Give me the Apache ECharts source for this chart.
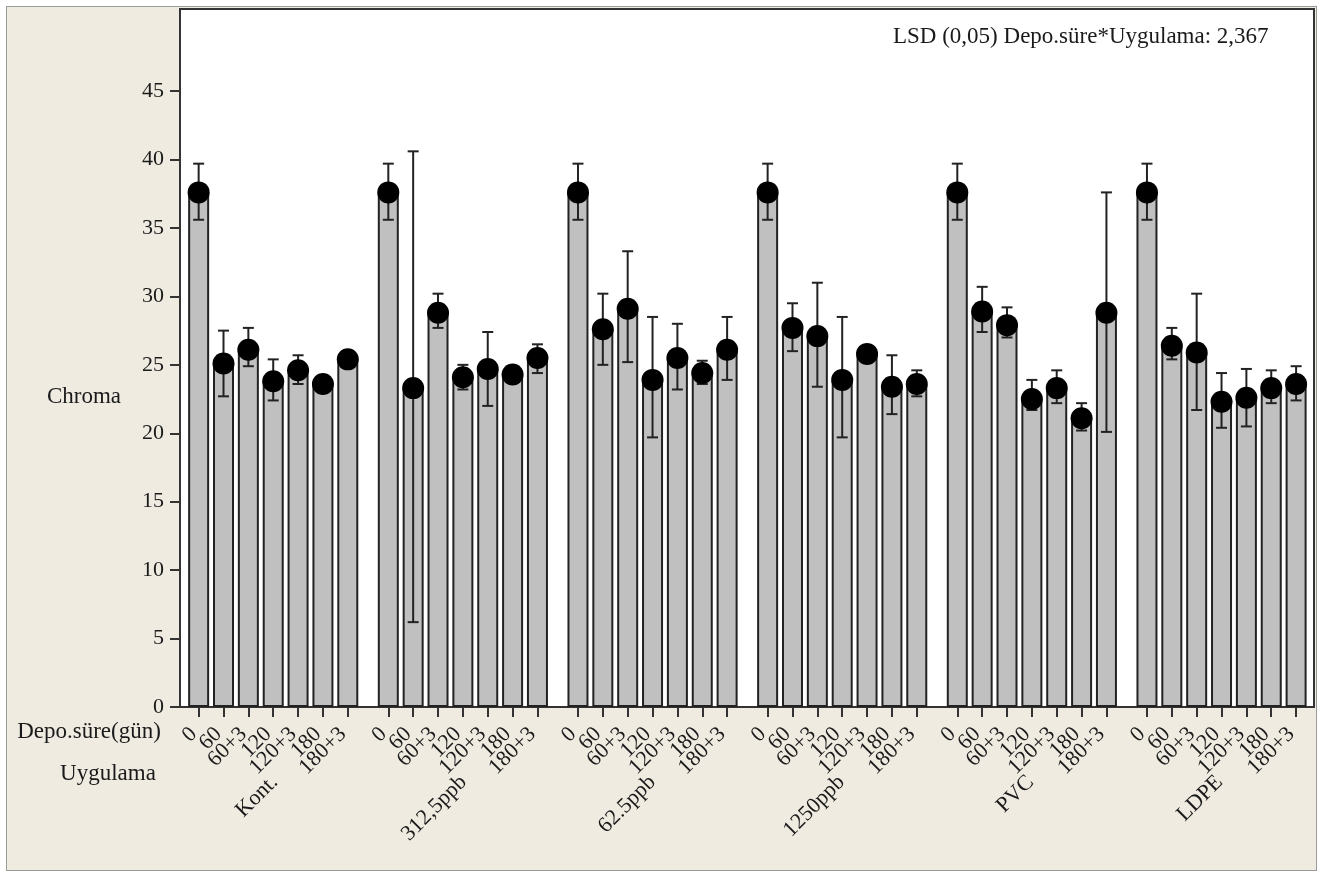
<!DOCTYPE html>
<html><head><meta charset="utf-8">
<script src="https://cdn.jsdelivr.net/npm/echarts@6/dist/echarts.min.js"></script>
<style>
html,body{margin:0;padding:0;background:#fff;}
#frame{position:absolute;left:6px;top:6px;width:1309px;height:863px;border:1px solid #9a9a9a;background:#efebe1;}
#chart{position:absolute;left:0;top:0;width:1320px;height:873px;}
</style></head><body>
<div id="frame"></div><div id="chart"></div>
<script>
// ---- data ----
const storageTimes = ['0', '60', '60+3', '120', '120+3', '180', '180+3'];
const applications = ['Kont.', '312,5ppb', '62.5ppb', '1250ppb', 'PVC', 'LDPE'];
const yTicks = [0, 5, 10, 15, 20, 25, 30, 35, 40, 45];

const meanKont  = [37.6, 25.1, 26.1, 23.8, 24.6, 23.6, 25.4];
const hiKont    = [39.7, 27.5, 27.7, 25.4, 25.7, null, null];
const loKont    = [35.6, 22.7, 24.9, 22.4, 23.6, null, null];

const mean312   = [37.6, 23.3, 28.8, 24.1, 24.7, 24.3, 25.5];
const hi312     = [39.7, 40.6, 30.2, 25.0, 27.4, null, 26.5];
const lo312     = [35.6, 6.2, 27.7, 23.2, 22.0, null, 24.4];

const mean625   = [37.6, 27.6, 29.1, 23.9, 25.5, 24.4, 26.1];
const hi625     = [39.7, 30.2, 33.3, 28.5, 28.0, 25.3, 28.5];
const lo625     = [35.6, 25.0, 25.2, 19.7, 23.2, 23.6, 23.9];

const mean1250  = [37.6, 27.7, 27.1, 23.9, 25.8, 23.4, 23.6];
const hi1250    = [39.7, 29.5, 31.0, 28.5, null, 25.7, 24.6];
const lo1250    = [35.6, 26.0, 23.4, 19.7, null, 21.4, 22.7];

const meanPVC   = [37.6, 28.9, 27.9, 22.5, 23.3, 21.1, 28.8];
const hiPVC     = [39.7, 30.7, 29.2, 23.9, 24.6, 22.2, 37.6];
const loPVC     = [35.6, 27.4, 27.0, 21.7, 22.2, 20.2, 20.1];

const meanLDPE  = [37.6, 26.4, 25.9, 22.3, 22.6, 23.3, 23.6];
const hiLDPE    = [39.7, 27.7, 30.2, 24.4, 24.7, 24.6, 24.9];
const loLDPE    = [35.6, 25.4, 21.7, 20.4, 20.5, 22.2, 22.4];

const lsdText = 'LSD (0,05) Depo.süre*Uygulama: 2,367';

// ---- build ----
const means = [meanKont, mean312, mean625, mean1250, meanPVC, meanLDPE];
const his = [hiKont, hi312, hi625, hi1250, hiPVC, hiLDPE];
const los = [loKont, lo312, lo625, lo1250, loPVC, loLDPE];
const STRIDE = 7.63; // group stride in bar units (7 bars + gap)
const X_MIN = -0.75, X_MAX = 5 * STRIDE + 6 + 0.72;
const barData = [], errData = [], tickVals = [], tickLab = {};
means.forEach((arr, g) => {
  arr.forEach((v, i) => {
    const x = +(g * STRIDE + i).toFixed(2);
    barData.push([x, v]);
    tickVals.push(x);
    tickLab[x.toFixed(2)] = storageTimes[i];
    if (his[g][i] != null) errData.push([x, los[g][i], his[g][i]]);
  });
});
const labelVals = [X_MIN].concat(tickVals, [X_MAX]);
const FONT = '"Liberation Serif", "DejaVu Serif", serif';
const TXT = '#1a1a1a';

const chart = echarts.init(document.getElementById('chart'), null, {renderer: 'canvas'});
chart.setOption({
  backgroundColor: 'transparent',
  animation: false,
  grid: {left: 180, right: 6, top: 9, bottom: 166, show: true, backgroundColor: '#fff', borderColor: '#333', borderWidth: 2},
  xAxis: [{
    type: 'value', min: X_MIN, max: X_MAX, position: 'bottom',
    splitLine: {show: false},
    axisLine: {show: true, onZero: false, lineStyle: {color: '#333', width: 2}},
    axisTick: {show: true, customValues: tickVals, length: 10, lineStyle: {color: '#333', width: 2}},
    axisLabel: {customValues: labelVals, rotate: 45, margin: 19, padding: [0, 7, 0, 0],
      fontFamily: FONT, fontSize: 22, color: TXT, hideOverlap: false,
      formatter: v => tickLab[(+v).toFixed(2)] || ''}
  }, {
    type: 'category', data: applications, position: 'bottom', gridIndex: 0,
    axisLine: {show: false, onZero: false}, axisTick: {show: false}, splitLine: {show: false},
    axisLabel: {rotate: 45, margin: 72, fontFamily: FONT, fontSize: 22, color: TXT, interval: 0}
  }],
  yAxis: {
    type: 'value', min: 0, max: 51,
    splitLine: {show: false},
    axisLine: {show: true, onZero: false, lineStyle: {color: '#333', width: 2}},
    axisTick: {show: true, customValues: yTicks, length: 10, lineStyle: {color: '#333', width: 2}},
    axisLabel: {customValues: yTicks, margin: 16, fontFamily: FONT, fontSize: 22, color: TXT}
  },
  graphic: [
    {type: 'text', left: 893, top: 25, style: {text: lsdText, font: '23px ' + FONT, fill: TXT}},
    {type: 'text', x: 84, y: 397, style: {text: 'Chroma', font: '23px ' + FONT, fill: TXT, align: 'center', verticalAlign: 'middle'}},
    {type: 'text', x: 89, y: 732, style: {text: 'Depo.süre(gün)', font: '23px ' + FONT, fill: TXT, align: 'center', verticalAlign: 'middle'}},
    {type: 'text', x: 108, y: 774, style: {text: 'Uygulama', font: '23px ' + FONT, fill: TXT, align: 'center', verticalAlign: 'middle'}}
  ],
  series: [{
    type: 'bar', xAxisIndex: 0, data: barData, barWidth: 21, silent: true,
    itemStyle: {color: '#c0c0c0', borderColor: '#222', borderWidth: 2}, z: 2
  }, {
    type: 'custom', xAxisIndex: 0, data: errData, z: 3, silent: true,
    renderItem: (params, api) => {
      const x = api.value(0);
      const lo = api.coord([x, api.value(1)]);
      const hi = api.coord([x, api.value(2)]);
      const cw = 5.5;
      const st = {stroke: '#222', lineWidth: 2};
      return {type: 'group', children: [
        {type: 'line', shape: {x1: lo[0], y1: lo[1], x2: hi[0], y2: hi[1]}, style: st},
        {type: 'line', shape: {x1: lo[0] - cw, y1: lo[1], x2: lo[0] + cw, y2: lo[1]}, style: st},
        {type: 'line', shape: {x1: hi[0] - cw, y1: hi[1], x2: hi[0] + cw, y2: hi[1]}, style: st}
      ]};
    }
  }, {
    type: 'scatter', xAxisIndex: 0, data: barData, symbol: 'circle', symbolSize: 22, silent: true,
    itemStyle: {color: '#000', opacity: 1}, z: 4
  }]
});
</script>
</body></html>
